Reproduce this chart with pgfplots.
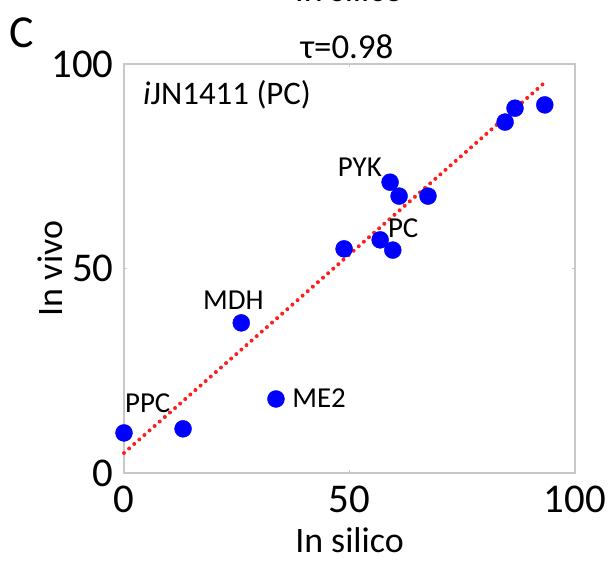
\documentclass[border=0pt]{standalone}
\usepackage{fontspec}
\setmainfont{Carlito}
\usepackage{pgfplots}
\pgfplotsset{compat=1.18}
\definecolor{dotBlue}{RGB}{0,0,255}
\definecolor{fitRed}{RGB}{255,30,30}
\definecolor{boxGray}{RGB}{200,200,200}

\begin{document}
\begin{tikzpicture}
    % crop the picture the way the reference is cropped
    \clip (-124bp,-88bp) rectangle (488bp,473bp);
    \begin{axis}[
        scale only axis,
        width=451bp,
        height=409bp,
        xmin=0, xmax=100,
        ymin=0, ymax=100,
        xtick={0,50,100},
        ytick={0,50,100},
        tick align=inside,
        major tick length=3bp,
        tick style={boxGray},
        axis line style={boxGray, line width=1.1bp},
        /pgf/number format/assume math mode=true,
        tick label style={font=\fontsize{41}{44}\selectfont},
        xticklabel style={yshift=-9bp},
        yticklabel style={xshift=-7bp},
        xlabel={In silico},
        ylabel={In vivo},
        label style={font=\fontsize{36}{40}\selectfont},
        xlabel style={at={(axis description cs:0.5,-0.1932)}, anchor=base},
        ylabel style={at={(axis description cs:-0.1353,0.5)}, anchor=base, rotate=0},
        clip=false
    ]

    % measured pairs
    \addplot[only marks, mark=*, mark size=8.5bp,
        mark options={draw=dotBlue, fill=dotBlue}] coordinates {
        (0,9.8) (13.1,10.8) (33.7,18.1) (26.0,36.7)
        (48.8,54.8) (56.8,57.0) (59.6,54.5)
        (59.0,71.1) (61.0,67.7) (67.4,67.7)
        (84.5,85.8) (86.7,89.2) (93.3,90.0)
    };

    % fit line
    \addplot[fitRed, line width=4bp, line cap=round,
        dash pattern=on 0pt off 6.8bp] coordinates {(0,4.9) (92.9,95.1)};

    \begin{scope}[every node/.style={inner sep=0pt, font=\fontsize{29}{32}\selectfont}]
    \node[anchor=base east] at (axis cs:57.2,72.6) {PYK};
    \node[anchor=base west] at (axis cs:58.5,57.7) {PC};
    \node[anchor=base west] at (axis cs:17.5,39.9) {MDH};
    \node[anchor=base west] at (axis cs:0.2,14.7) {PPC};
    \node[anchor=base west] at (axis cs:37.3,15.9) {ME2};
    \end{scope}
    \node[anchor=base west, inner sep=0pt, font=\fontsize{33}{36}\selectfont]
        at (axis cs:4.2,90.0) {\textit{i}JN1411 (PC)};

    \end{axis}

    % titles above the box
    \node[anchor=base, inner sep=0pt, font=\fontsize{35}{38}\selectfont] at (223bp,414bp) {τ=0.98};
    \node[anchor=base, inner sep=0pt, font=\fontsize{36}{40}\selectfont] at (225bp,471bp) {In silico};
    \node[anchor=base west, inner sep=0pt, font=\fontsize{46}{50}\selectfont] at (-115bp,425bp) {C};
\end{tikzpicture}
\end{document}
